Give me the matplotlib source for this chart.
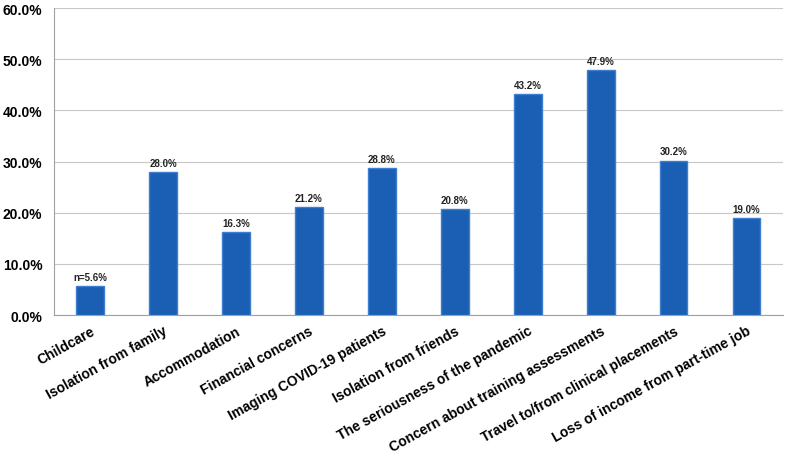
import matplotlib
matplotlib.use("Agg")
import matplotlib.pyplot as plt
from matplotlib.ticker import FuncFormatter

categories = ["Childcare", "Isolation from family", "Accommodation", "Financial concerns",
              "Imaging COVID-19 patients", "Isolation from friends",
              "The seriousness of the pandemic", "Concern about training assessments",
              "Travel to/from clinical placements", "Loss of income from part-time job"]
values = [5.6, 28.0, 16.3, 21.2, 28.8, 20.8, 43.2, 47.9, 30.2, 19.0]
labels = ["n=5.6%", "28.0%", "16.3%", "21.2%", "28.8%", "20.8%", "43.2%", "47.9%", "30.2%", "19.0%"]

plt.rcParams["font.family"] = ["Liberation Sans", "DejaVu Sans"]
plt.rcParams["font.weight"] = "bold"

fig = plt.figure(figsize=(7.87, 4.6), dpi=100)
ax = fig.add_axes([0.068, 0.313, 0.927, 0.667])

x = range(len(categories))
bars = ax.bar(x, values, width=0.38, color="#1a5fb4", edgecolor="#3f7fcf", linewidth=1.0, zorder=3)
for xi, v, lab in zip(x, values, labels):
    ax.text(xi, v + 0.8, lab, ha="center", va="bottom", fontsize=7, fontweight="bold", color="#222222")

ax.set_xlim(-0.5, len(categories) - 0.5)
ax.set_ylim(0, 60)
ax.set_yticks(range(0, 61, 10))
ax.yaxis.set_major_formatter(FuncFormatter(lambda v, _: f"{v:.1f}%"))
ax.grid(axis="y", color="#c8c8c8", linewidth=0.8, zorder=0)
for s in ["top", "right"]:
    ax.spines[s].set_visible(False)
for s in ["left", "bottom"]:
    ax.spines[s].set_color("#a0a0a0")
ax.tick_params(axis="both", length=0)
ax.tick_params(axis="y", labelsize=10, pad=8)
ax.tick_params(axis="x", pad=6)
ax.set_xticks(list(x))
ax.set_xticklabels(categories, rotation=29, ha="right", rotation_mode="anchor", fontsize=10)
for t in ax.get_yticklabels() + ax.get_xticklabels():
    t.set_fontweight("bold")

fig.savefig("out.png", dpi=100)
